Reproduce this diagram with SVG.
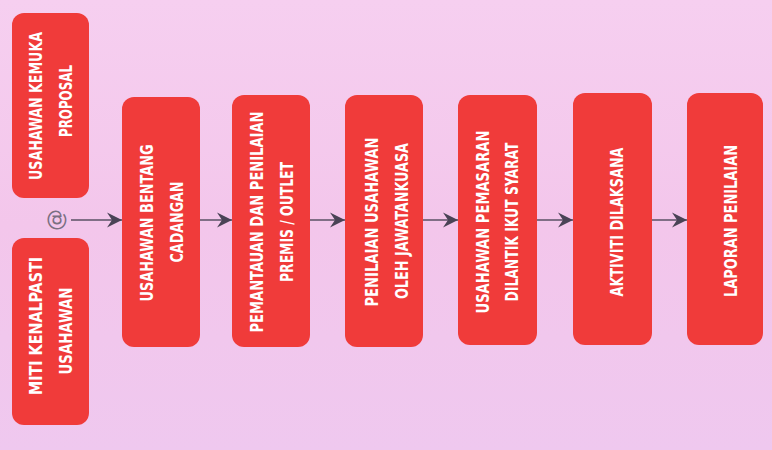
<svg xmlns="http://www.w3.org/2000/svg" width="772" height="450" viewBox="0 0 772 450">
<defs>
<linearGradient id="bg" x1="0" y1="0" x2="0" y2="1">
<stop offset="0" stop-color="#f6cff0"/>
<stop offset="0.5" stop-color="#f3c6eb"/>
<stop offset="1" stop-color="#efc8ef"/>
</linearGradient>
<marker id="ah" markerWidth="16" markerHeight="16" refX="15" refY="8" orient="auto" markerUnits="userSpaceOnUse">
<path d="M0,0.5 L15,8 L0,15.5 L5,8 Z" fill="#4a4356"/>
</marker>
<style>
.box{fill:#f03b3a;}
.t{font-family:"DejaVu Sans Condensed","DejaVu Sans","Liberation Sans Narrow",sans-serif;font-stretch:condensed;font-weight:bold;font-size:17px;fill:#ffffff;text-anchor:middle;}
.c{stroke:#5a5064;stroke-width:1.5;fill:none;marker-end:url(#ah);}
.at{font-family:"DejaVu Sans",sans-serif;font-size:22px;fill:#7a6f82;text-anchor:middle;}
</style>
</defs>
<rect width="772" height="450" fill="url(#bg)"/>

<g id="n_kemuka">
<rect class="box" x="12" y="13" width="77" height="185" rx="12"/>
<text class="t" transform="translate(0,106) rotate(-90)" y="42" textLength="148" lengthAdjust="spacingAndGlyphs">USAHAWAN KEMUKA</text>
<text class="t" transform="translate(0,101) rotate(-90)" y="72" textLength="72" lengthAdjust="spacingAndGlyphs">PROPOSAL</text>
</g>

<g id="n_miti">
<rect class="box" x="12" y="238" width="77" height="187" rx="12"/>
<text class="t" transform="translate(0,326) rotate(-90)" y="42" textLength="138" lengthAdjust="spacingAndGlyphs">MITI KENALPASTI</text>
<text class="t" transform="translate(0,331) rotate(-90)" y="72" textLength="87" lengthAdjust="spacingAndGlyphs">USAHAWAN</text>
</g>

<g id="n_at">
<text class="at" transform="translate(63,220) rotate(-90)" y="0">@</text>
</g>

<g id="n_bentang">
<rect class="box" x="122" y="97" width="78" height="250" rx="12"/>
<text class="t" transform="translate(0,223) rotate(-90)" y="153" textLength="157" lengthAdjust="spacingAndGlyphs">USAHAWAN BENTANG</text>
<text class="t" transform="translate(0,222) rotate(-90)" y="183" textLength="81" lengthAdjust="spacingAndGlyphs">CADANGAN</text>
</g>

<g id="n_pemantauan">
<rect class="box" x="232" y="95" width="78" height="252" rx="12"/>
<text class="t" transform="translate(0,222) rotate(-90)" y="263" textLength="221" lengthAdjust="spacingAndGlyphs">PEMANTAUAN DAN PENILAIAN</text>
<text class="t" transform="translate(0,222) rotate(-90)" y="293" textLength="120" lengthAdjust="spacingAndGlyphs">PREMIS / OUTLET</text>
</g>

<g id="n_penilaian">
<rect class="box" x="345" y="95" width="78" height="252" rx="12"/>
<text class="t" transform="translate(0,222) rotate(-90)" y="378" textLength="169" lengthAdjust="spacingAndGlyphs">PENILAIAN USAHAWAN</text>
<text class="t" transform="translate(0,221) rotate(-90)" y="408" textLength="156" lengthAdjust="spacingAndGlyphs">OLEH JAWATANKUASA</text>
</g>

<g id="n_pemasaran">
<rect class="box" x="458" y="95" width="79" height="250" rx="12"/>
<text class="t" transform="translate(0,222) rotate(-90)" y="489" textLength="183" lengthAdjust="spacingAndGlyphs">USAHAWAN PEMASARAN</text>
<text class="t" transform="translate(0,222) rotate(-90)" y="518" textLength="159" lengthAdjust="spacingAndGlyphs">DILANTIK IKUT SYARAT</text>
</g>

<g id="n_aktiviti">
<rect class="box" x="573" y="93" width="79" height="252" rx="12"/>
<text class="t" transform="translate(0,222) rotate(-90)" y="623" textLength="149" lengthAdjust="spacingAndGlyphs">AKTIVITI DILAKSANA</text>
</g>

<g id="n_laporan">
<rect class="box" x="687" y="93" width="76" height="252" rx="12"/>
<text class="t" transform="translate(0,221) rotate(-90)" y="737" textLength="152" lengthAdjust="spacingAndGlyphs">LAPORAN PENILAIAN</text>
</g>

<g id="connectors">
<line class="c" x1="71" y1="220" x2="122" y2="220"/>
<line class="c" x1="200" y1="220" x2="232" y2="220"/>
<line class="c" x1="310" y1="220" x2="345" y2="220"/>
<line class="c" x1="423" y1="220" x2="458" y2="220"/>
<line class="c" x1="537" y1="220" x2="573" y2="220"/>
<line class="c" x1="652" y1="220" x2="687" y2="220"/>
</g>
</svg>
